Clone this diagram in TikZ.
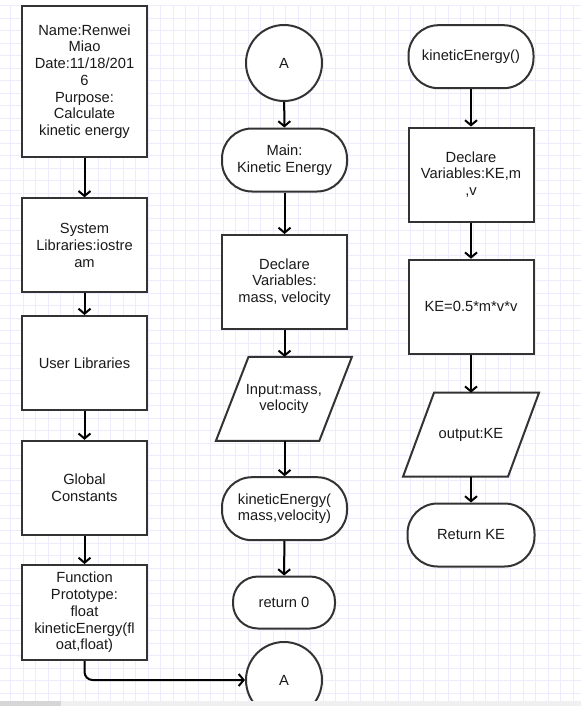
\documentclass[tikz,border=0pt]{standalone}
\usepackage{fontspec}
\setmainfont{Liberation Sans}
\usetikzlibrary{arrows.meta}
\definecolor{gridc}{HTML}{ECECFC}
\definecolor{bordc}{HTML}{333333}
\definecolor{txtc}{HTML}{1A1A1A}
\definecolor{stripc}{HTML}{F0F0F0}
\definecolor{thumbc}{HTML}{D6D6D6}
\newcommand{\dfont}{\fontsize{14.7pt}{16.7pt}\selectfont}
\pgfdeclarelayer{gridlayer}
\pgfdeclarelayer{shapelayer}
\pgfsetlayers{gridlayer,shapelayer,main}
\tikzset{
  bord/.style={draw=bordc, line width=2pt, fill=white},
  proc/.style={bord, rectangle, minimum width=125pt, minimum height=94pt, inner sep=0pt, align=center, font=\dfont, text=txtc},
  term/.style={bord, rectangle, rounded corners=30pt, minimum width=125pt, minimum height=63pt, inner sep=0pt, align=center, font=\dfont, text=txtc},
  conn/.style={bord, circle, minimum size=76pt, inner sep=0pt, font=\dfont, text=txtc},
  io/.style={rectangle, minimum width=134pt, minimum height=82pt, inner sep=0pt, align=center, font=\dfont, text=txtc, outer sep=1pt},
  arr/.style={draw=black, line width=2pt, -{Straight Barb[length=5pt,width=12pt]}}
}
\begin{document}
\begin{tikzpicture}[x=1pt,y=-1pt]
\useasboundingbox (0,0) rectangle (581,706);
\begin{pgfonlayer}{gridlayer}
\fill[white] (0,0) rectangle (581,706);
\foreach \i in {0,...,45} {\draw[gridc, line width=0.9pt] ({10.5+12.5*\i},5) -- ({10.5+12.5*\i},701);}
\foreach \j in {0,...,55} {\draw[gridc, line width=0.9pt] (0,{5.5+12.5*\j}) -- (581,{5.5+12.5*\j});}
\end{pgfonlayer}

% left column
\node[proc, minimum height=151pt] (hdr) at (84.5,81.5) {Name:Renwei\\Miao\\Date:11/18/201\\6\\Purpose:\\Calculate\\kinetic energy};
\node[proc] (sys) at (84.5,245.3) {System\\Libraries:iostre\\am};
\node[proc] (usr) at (84.5,363) {User Libraries};
\node[proc] (glob) at (84.5,487.8) {Global\\Constants};
\node[proc, minimum height=95pt] (fp) at (84.5,612.5) {Function\\Prototype:\\float\\kineticEnergy(fl\\oat,float)};

% middle column
\node[conn] (A1) at (284,63) {A};
\node[term] (mainT) at (284.5,160) {Main:\\Kinetic Energy};
\node[proc] (decl) at (284.5,282) {Declare\\Variables:\\mass, velocity};
\node[io] (inp) at (283.9,398.9) {Input:mass,\\velocity};
\node[term] (call) at (284.5,508.7) {kineticEnergy(\\mass,velocity)};
\node[term, minimum width=102pt, minimum height=52pt, rounded corners=25pt] (ret0) at (284,602.5) {return 0};
\node[conn] (A2) at (284,680) {A};

% right column
\node[term] (kef) at (471,56.7) {kineticEnergy()};
\node[proc] (declke) at (471,174.5) {Declare\\Variables:KE,m\\,v};
\node[proc] (calc) at (471,306.7) {KE=0.5*m*v*v};
\node[io] (outp) at (471,434.7) {output:KE};
\node[term, minimum width=127pt] (retke) at (471,535) {Return KE};

\begin{pgfonlayer}{shapelayer}
\draw[bord] ([xshift=32.6pt]inp.north west) -- (inp.north east) -- ([xshift=-32.6pt]inp.south east) -- (inp.south west) -- cycle;
\draw[bord] ([xshift=31pt]outp.north west) -- (outp.north east) -- ([xshift=-31pt]outp.south east) -- (outp.south west) -- cycle;
\end{pgfonlayer}

% connectors
\draw[arr] (hdr) -- (sys);
\draw[arr] (sys) -- (usr);
\draw[arr] (usr) -- (glob);
\draw[arr] (glob) -- (fp);
\draw[arr, rounded corners=8pt] (fp.south) |- (A2.west);

\draw[arr] (A1) -- (mainT);
\draw[arr] (mainT) -- (decl);
\draw[arr] (decl.south) -- (decl.south |- inp.north);
\draw[arr] (call.north |- inp.south) -- (call.north);
\draw[arr] (call) -- (ret0);

\draw[arr] (kef) -- (declke);
\draw[arr] (declke) -- (calc);
\draw[arr] (calc.south) -- (calc.south |- outp.north);
\draw[arr] (retke.north |- outp.south) -- (retke.north);

% bottom strip
\fill[stripc] (0,701) rectangle (581,706);
\fill[thumbc] (0,701) rectangle (61,706);
\end{tikzpicture}
\end{document}
